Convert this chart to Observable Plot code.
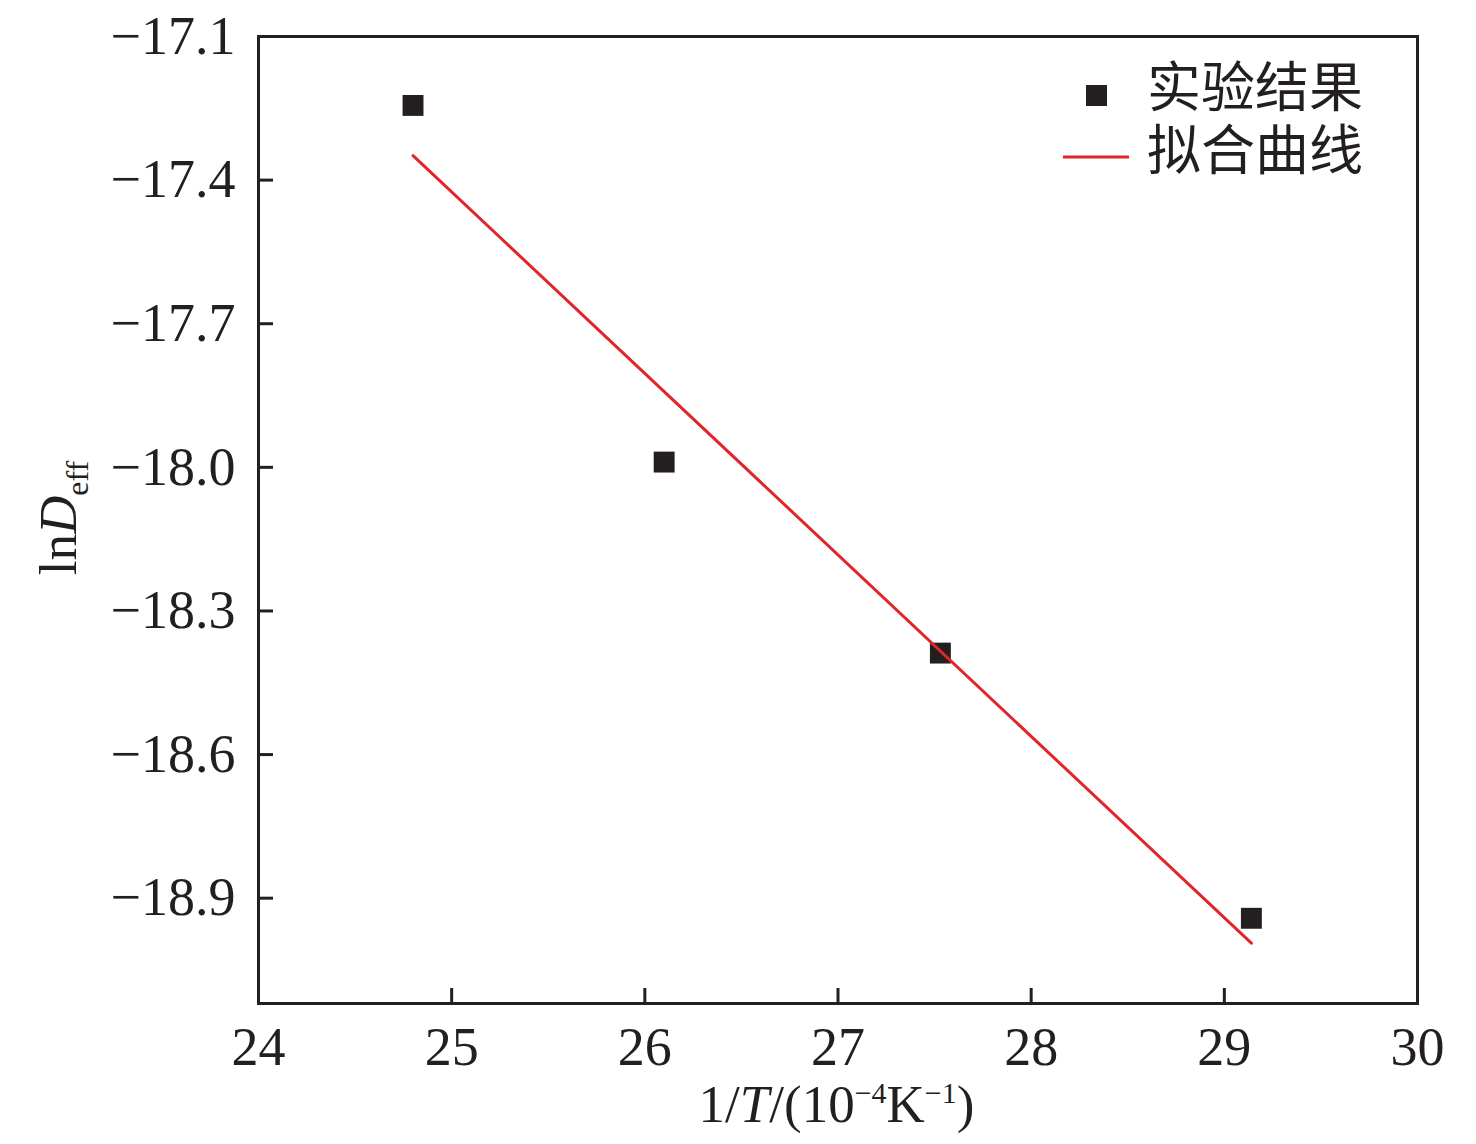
<!DOCTYPE html>
<html><head><meta charset="utf-8">
<script src="https://cdn.jsdelivr.net/npm/d3@7"></script>
<script src="https://cdn.jsdelivr.net/npm/@observablehq/plot@0.6"></script>
<style>body{margin:0;background:#fff}</style>
</head><body><div id="chart"></div>
<script>
// Experimental points: 1/T (10^-4 K^-1) and ln Deff
const invT = [24.80, 26.10, 27.53, 29.14];
const lnDeff = [-17.244, -17.989, -18.388, -18.942];
// Fitted line end points
const fitInvT = [24.80, 29.14];
const fitLnDeff = [-17.349, -18.994];
// Tick values
const xTicks = [24, 25, 26, 27, 28, 29, 30];
const yTicks = [-17.1, -17.4, -17.7, -18.0, -18.3, -18.6, -18.9];
const seriesNames = ["实验结果", "拟合曲线"];

const points = invT.map((x, i) => ({x, y: lnDeff[i]}));
const fit = fitInvT.map((x, i) => ({x, y: fitLnDeff[i]}));

const W = 1476, H = 1144;
const mL = 258, mR = 59, mT = 36, mB = 141;
const pw = W - mL - mR, ph = H - mT - mB;
const RED = "#e0262b", BLACK = "#231f20";
const serif = "'Liberation Serif', 'Times New Roman', serif";

const chart = Plot.plot({
  width: W, height: H,
  marginLeft: mL, marginRight: mR, marginTop: mT, marginBottom: mB,
  style: {fontFamily: serif, fontSize: "54px", color: BLACK, background: "#fff"},
  x: {domain: [24, 30], ticks: xTicks},
  y: {domain: [-19.12, -17.1], ticks: yTicks},
  marks: [
    Plot.dot(points, {x: "x", y: "y", symbol: "square", r: 11.8, fill: BLACK, stroke: "none"}),
    Plot.line(fit, {x: "x", y: "y", stroke: RED, strokeWidth: 3}),
    Plot.tickX(xTicks.slice(1, -1), {x: d => d, insetTop: ph - 15, stroke: BLACK, strokeWidth: 3}),
    Plot.tickY(yTicks.slice(1), {y: d => d, insetRight: pw - 15, stroke: BLACK, strokeWidth: 3}),
    Plot.frame({stroke: BLACK, strokeWidth: 3}),
    Plot.axisX(xTicks, {tickSize: 0, tickPadding: 23, label: null, fontSize: 54, fill: BLACK, tickFormat: d => String(d)}),
    Plot.axisY(yTicks, {tickSize: 0, tickPadding: 23, label: null, fontSize: 54, fill: BLACK, tickFormat: d3.format(".1f")})
  ]
});
document.getElementById("chart").appendChild(chart);

const svg = d3.select(chart);

// x-axis label: 1/T/(10^-4 K^-1)
const xl = svg.append("text")
  .attr("x", mL + pw / 2 - 1).attr("y", 1122)
  .attr("text-anchor", "middle")
  .attr("font-family", serif).attr("font-size", 53).attr("fill", BLACK);
xl.append("tspan").text("1/");
xl.append("tspan").attr("font-style", "italic").text("T");
xl.append("tspan").text("/(10");
xl.append("tspan").attr("font-size", 30).attr("dy", -19).text("\u22124");
xl.append("tspan").attr("dy", 19).text("K");
xl.append("tspan").attr("font-size", 30).attr("dy", -19).text("\u22121");
xl.append("tspan").attr("dy", 19).text(")");

// y-axis label: ln D_eff
const yl = svg.append("text")
  .attr("transform", "translate(76,518) rotate(-90)")
  .attr("text-anchor", "middle")
  .attr("font-family", serif).attr("font-size", 53).attr("fill", BLACK);
yl.append("tspan").text("ln");
yl.append("tspan").attr("font-style", "italic").text("D");
yl.append("tspan").attr("font-size", 32).attr("dy", 12).text("eff");

// Legend
const cjk = "'Noto Sans CJK SC', 'Noto Sans', sans-serif";
svg.append("rect").attr("x", 1086).attr("y", 85).attr("width", 21).attr("height", 21).attr("fill", BLACK);
svg.append("text").attr("x", 1147).attr("y", 107).attr("text-anchor", "start").attr("font-family", cjk).attr("font-size", 54).attr("fill", BLACK).text(seriesNames[0]);
svg.append("line").attr("x1", 1063).attr("x2", 1129).attr("y1", 157).attr("y2", 157).attr("stroke", RED).attr("stroke-width", 3);
svg.append("text").attr("x", 1147).attr("y", 170).attr("text-anchor", "start").attr("font-family", cjk).attr("font-size", 54).attr("fill", BLACK).text(seriesNames[1]);
</script>
</body></html>
